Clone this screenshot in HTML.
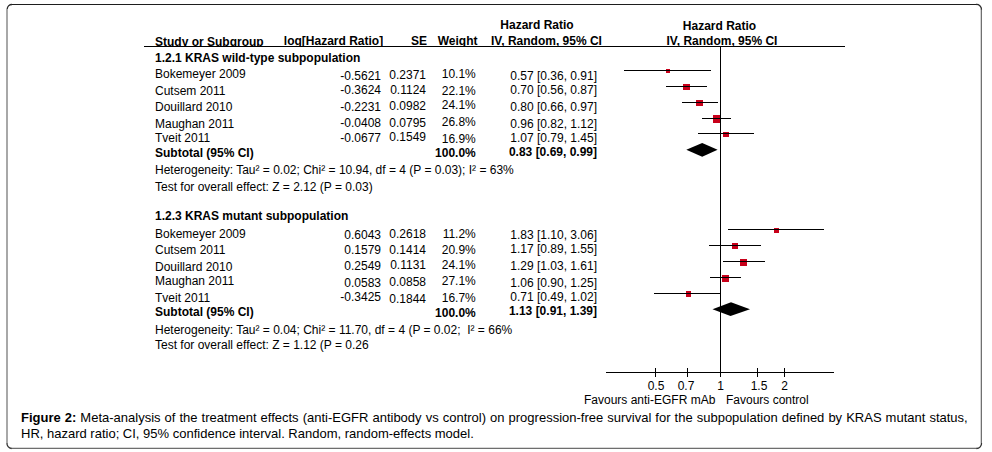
<!DOCTYPE html>
<html><head><meta charset="utf-8"><style>
html,body{margin:0;padding:0;background:#fff;width:992px;height:452px;overflow:hidden;position:relative}
.t{position:absolute;white-space:nowrap;font-family:"Liberation Sans",sans-serif;color:#000}
.r{position:absolute}
</style></head><body>
<svg class="r" style="left:0;top:0" width="992" height="452" viewBox="0 0 992 452">
<rect x="11" y="4" width="966" height="1" fill="#1e1e1e"/>
<rect x="6" y="9" width="2" height="434" fill="#a8a8a8"/>
<rect x="980" y="9" width="1" height="434" fill="#d4d4d4"/>
<rect x="981" y="9" width="1" height="434" fill="#707070"/>
<rect x="11" y="447" width="966" height="1" fill="#d8d8d8"/>
<rect x="11" y="448" width="966" height="1" fill="#6e6e6e"/>
<path d="M7.2,9 A4.8,4.8 0 0 1 12,4.5" stroke="#2a2a2a" stroke-width="1.3" fill="none"/>
<path d="M976,4.5 A5,5 0 0 1 981.5,9.5" stroke="#2a2a2a" stroke-width="1.3" fill="none"/>
<path d="M981.5,443 A5,5 0 0 1 976.5,448.5" stroke="#333" stroke-width="1.3" fill="none"/>
<path d="M11.5,448.5 A5,5 0 0 1 7,443" stroke="#333" stroke-width="1.3" fill="none"/>
</svg>
<div class="r" style="left:666px;top:69px;width:4px;height:4px;background:#c8001a"></div><div class="r" style="left:683px;top:84px;width:7px;height:6px;background:#c8001a"></div><div class="r" style="left:696px;top:100px;width:7px;height:6px;background:#c8001a"></div><div class="r" style="left:713px;top:115px;width:8px;height:8px;background:#c8001a"></div><div class="r" style="left:723px;top:132px;width:6px;height:5px;background:#c8001a"></div><div class="r" style="left:774px;top:228px;width:5px;height:5px;background:#c8001a"></div><div class="r" style="left:732px;top:243px;width:6px;height:6px;background:#c8001a"></div><div class="r" style="left:740px;top:259px;width:7px;height:7px;background:#c8001a"></div><div class="r" style="left:722px;top:275px;width:7px;height:7px;background:#c8001a"></div><div class="r" style="left:686px;top:291px;width:5px;height:6px;background:#c8001a"></div>
<div class="r" style="left:144px;top:46px;width:701px;height:1px;background:#000"></div><div class="r" style="left:720px;top:47px;width:1px;height:330px;background:#000"></div><div class="r" style="left:606px;top:372px;width:228px;height:1px;background:#000"></div><div class="r" style="left:655px;top:368px;width:1px;height:9px;background:#000"></div><div class="r" style="left:687px;top:368px;width:1px;height:9px;background:#000"></div><div class="r" style="left:720px;top:368px;width:1px;height:9px;background:#000"></div><div class="r" style="left:757px;top:368px;width:1px;height:9px;background:#000"></div><div class="r" style="left:784px;top:368px;width:1px;height:9px;background:#000"></div>
<div class="r" style="left:624px;top:70px;width:87px;height:1px;background:#000"></div><div class="r" style="left:666px;top:86px;width:41px;height:1px;background:#000"></div><div class="r" style="left:682px;top:102px;width:36px;height:1px;background:#000"></div><div class="r" style="left:702px;top:118px;width:29px;height:1px;background:#000"></div><div class="r" style="left:698px;top:133px;width:56px;height:1px;background:#000"></div><div class="r" style="left:728px;top:229px;width:96px;height:1px;background:#000"></div><div class="r" style="left:709px;top:245px;width:52px;height:1px;background:#000"></div><div class="r" style="left:723px;top:261px;width:42px;height:1px;background:#000"></div><div class="r" style="left:710px;top:277px;width:31px;height:1px;background:#000"></div><div class="r" style="left:654px;top:293px;width:67px;height:1px;background:#000"></div>
<svg class="r" style="left:0;top:0" width="992" height="452" viewBox="0 0 992 452">
<polygon points="686.3,149.8 702.2,143 717.6,149.8 702.2,156.8" fill="#000"/>
<polygon points="712.5,309.2 731,302.3 750,309.2 730.5,316" fill="#000"/>
</svg>
<div class="t" id="t0" style="top:36px;font-size:12px;line-height:12px;font-weight:bold;left:155px;height:11px;overflow:hidden;">Study or Subgroup</div><div class="t" id="t1" style="top:35px;font-size:12px;line-height:12px;font-weight:bold;left:83.19999999999999px;width:300px;text-align:right;height:12px;overflow:hidden;">log[Hazard Ratio]</div><div class="t" id="t2" style="top:35px;font-size:12px;line-height:12px;font-weight:bold;left:127.0px;width:300px;text-align:right;height:12px;overflow:hidden;">SE</div><div class="t" id="t3" style="top:35px;font-size:12px;line-height:12px;font-weight:bold;left:177.5px;width:300px;text-align:right;height:12px;overflow:hidden;">Weight</div><div class="t" id="t4" style="top:19px;font-size:12px;line-height:12px;font-weight:bold;left:387.0px;width:300px;text-align:center;">Hazard Ratio</div><div class="t" id="t5" style="top:35px;font-size:12px;line-height:12px;font-weight:bold;left:396.5px;width:300px;text-align:center;height:12px;overflow:hidden;">IV, Random, 95% CI</div><div class="t" id="t6" style="top:20px;font-size:12px;line-height:12px;font-weight:bold;left:569.5px;width:300px;text-align:center;">Hazard Ratio</div><div class="t" id="t7" style="top:35px;font-size:12px;line-height:12px;font-weight:bold;left:572.0px;width:300px;text-align:center;height:12px;overflow:hidden;">IV, Random, 95% CI</div><div class="t" id="t8" style="top:52px;font-size:12px;line-height:12px;font-weight:bold;left:155px;">1.2.1 KRAS wild-type subpopulation</div><div class="t" id="t9" style="top:68px;font-size:12px;line-height:12px;left:155px;">Bokemeyer 2009</div><div class="t" id="t10" style="top:70px;font-size:12px;line-height:12px;left:81.0px;width:300px;text-align:right;">-0.5621</div><div class="t" id="t11" style="top:69px;font-size:12px;line-height:12px;left:126.0px;width:300px;text-align:right;">0.2371</div><div class="t" id="t12" style="top:68px;font-size:12px;line-height:12px;left:175.8px;width:300px;text-align:right;">10.1%</div><div class="t" id="t13" style="top:70px;font-size:12px;line-height:12px;left:297.0px;width:300px;text-align:right;">0.57 [0.36, 0.91]</div><div class="t" id="t14" style="top:85px;font-size:12px;line-height:12px;left:155px;">Cutsem 2011</div><div class="t" id="t15" style="top:84px;font-size:12px;line-height:12px;left:81.0px;width:300px;text-align:right;">-0.3624</div><div class="t" id="t16" style="top:84px;font-size:12px;line-height:12px;left:126.0px;width:300px;text-align:right;">0.1124</div><div class="t" id="t17" style="top:85px;font-size:12px;line-height:12px;left:175.8px;width:300px;text-align:right;">22.1%</div><div class="t" id="t18" style="top:84px;font-size:12px;line-height:12px;left:297.0px;width:300px;text-align:right;">0.70 [0.56, 0.87]</div><div class="t" id="t19" style="top:101px;font-size:12px;line-height:12px;left:155px;">Douillard 2010</div><div class="t" id="t20" style="top:101px;font-size:12px;line-height:12px;left:81.0px;width:300px;text-align:right;">-0.2231</div><div class="t" id="t21" style="top:100px;font-size:12px;line-height:12px;left:126.0px;width:300px;text-align:right;">0.0982</div><div class="t" id="t22" style="top:99px;font-size:12px;line-height:12px;left:175.8px;width:300px;text-align:right;">24.1%</div><div class="t" id="t23" style="top:101px;font-size:12px;line-height:12px;left:297.0px;width:300px;text-align:right;">0.80 [0.66, 0.97]</div><div class="t" id="t24" style="top:118px;font-size:12px;line-height:12px;left:155px;">Maughan 2011</div><div class="t" id="t25" style="top:117px;font-size:12px;line-height:12px;left:81.0px;width:300px;text-align:right;">-0.0408</div><div class="t" id="t26" style="top:117px;font-size:12px;line-height:12px;left:126.0px;width:300px;text-align:right;">0.0795</div><div class="t" id="t27" style="top:116px;font-size:12px;line-height:12px;left:175.8px;width:300px;text-align:right;">26.8%</div><div class="t" id="t28" style="top:118px;font-size:12px;line-height:12px;left:297.0px;width:300px;text-align:right;">0.96 [0.82, 1.12]</div><div class="t" id="t29" style="top:132px;font-size:12px;line-height:12px;left:155px;">Tveit 2011</div><div class="t" id="t30" style="top:132px;font-size:12px;line-height:12px;left:81.0px;width:300px;text-align:right;">-0.0677</div><div class="t" id="t31" style="top:131px;font-size:12px;line-height:12px;left:126.0px;width:300px;text-align:right;">0.1549</div><div class="t" id="t32" style="top:133px;font-size:12px;line-height:12px;left:175.8px;width:300px;text-align:right;">16.9%</div><div class="t" id="t33" style="top:132px;font-size:12px;line-height:12px;left:297.0px;width:300px;text-align:right;">1.07 [0.79, 1.45]</div><div class="t" id="t34" style="top:228px;font-size:12px;line-height:12px;left:155px;">Bokemeyer 2009</div><div class="t" id="t35" style="top:229px;font-size:12px;line-height:12px;left:81.0px;width:300px;text-align:right;">0.6043</div><div class="t" id="t36" style="top:228px;font-size:12px;line-height:12px;left:126.0px;width:300px;text-align:right;">0.2618</div><div class="t" id="t37" style="top:228px;font-size:12px;line-height:12px;left:175.8px;width:300px;text-align:right;">11.2%</div><div class="t" id="t38" style="top:229px;font-size:12px;line-height:12px;left:297.0px;width:300px;text-align:right;">1.83 [1.10, 3.06]</div><div class="t" id="t39" style="top:244px;font-size:12px;line-height:12px;left:155px;">Cutsem 2011</div><div class="t" id="t40" style="top:244px;font-size:12px;line-height:12px;left:81.0px;width:300px;text-align:right;">0.1579</div><div class="t" id="t41" style="top:244px;font-size:12px;line-height:12px;left:126.0px;width:300px;text-align:right;">0.1414</div><div class="t" id="t42" style="top:244px;font-size:12px;line-height:12px;left:175.8px;width:300px;text-align:right;">20.9%</div><div class="t" id="t43" style="top:243px;font-size:12px;line-height:12px;left:297.0px;width:300px;text-align:right;">1.17 [0.89, 1.55]</div><div class="t" id="t44" style="top:261px;font-size:12px;line-height:12px;left:155px;">Douillard 2010</div><div class="t" id="t45" style="top:260px;font-size:12px;line-height:12px;left:81.0px;width:300px;text-align:right;">0.2549</div><div class="t" id="t46" style="top:259px;font-size:12px;line-height:12px;left:126.0px;width:300px;text-align:right;">0.1131</div><div class="t" id="t47" style="top:259px;font-size:12px;line-height:12px;left:175.8px;width:300px;text-align:right;">24.1%</div><div class="t" id="t48" style="top:260px;font-size:12px;line-height:12px;left:297.0px;width:300px;text-align:right;">1.29 [1.03, 1.61]</div><div class="t" id="t49" style="top:275px;font-size:12px;line-height:12px;left:155px;">Maughan 2011</div><div class="t" id="t50" style="top:277px;font-size:12px;line-height:12px;left:81.0px;width:300px;text-align:right;">0.0583</div><div class="t" id="t51" style="top:276px;font-size:12px;line-height:12px;left:126.0px;width:300px;text-align:right;">0.0858</div><div class="t" id="t52" style="top:275px;font-size:12px;line-height:12px;left:175.8px;width:300px;text-align:right;">27.1%</div><div class="t" id="t53" style="top:277px;font-size:12px;line-height:12px;left:297.0px;width:300px;text-align:right;">1.06 [0.90, 1.25]</div><div class="t" id="t54" style="top:292px;font-size:12px;line-height:12px;left:155px;">Tveit 2011</div><div class="t" id="t55" style="top:291px;font-size:12px;line-height:12px;left:81.0px;width:300px;text-align:right;">-0.3425</div><div class="t" id="t56" style="top:293px;font-size:12px;line-height:12px;left:126.0px;width:300px;text-align:right;">0.1844</div><div class="t" id="t57" style="top:292px;font-size:12px;line-height:12px;left:175.8px;width:300px;text-align:right;">16.7%</div><div class="t" id="t58" style="top:291px;font-size:12px;line-height:12px;left:297.0px;width:300px;text-align:right;">0.71 [0.49, 1.02]</div><div class="t" id="t59" style="top:147px;font-size:12px;line-height:12px;font-weight:bold;left:155px;">Subtotal (95% CI)</div><div class="t" id="t60" style="top:147px;font-size:12px;line-height:12px;font-weight:bold;left:175.8px;width:300px;text-align:right;">100.0%</div><div class="t" id="t61" style="top:146px;font-size:12px;line-height:12px;font-weight:bold;left:297.0px;width:300px;text-align:right;">0.83 [0.69, 0.99]</div><div class="t" id="t62" style="top:164px;font-size:12px;line-height:12px;left:155px;">Heterogeneity: Tau² = 0.02; Chi² = 10.94, df = 4 (P = 0.03); I² = 63%</div><div class="t" id="t63" style="top:181px;font-size:12px;line-height:12px;left:155px;">Test for overall effect: Z = 2.12 (P = 0.03)</div><div class="t" id="t64" style="top:210px;font-size:12px;line-height:12px;font-weight:bold;left:155px;">1.2.3 KRAS mutant subpopulation</div><div class="t" id="t65" style="top:306px;font-size:12px;line-height:12px;font-weight:bold;left:155px;">Subtotal (95% CI)</div><div class="t" id="t66" style="top:307px;font-size:12px;line-height:12px;font-weight:bold;left:175.8px;width:300px;text-align:right;">100.0%</div><div class="t" id="t67" style="top:305px;font-size:12px;line-height:12px;font-weight:bold;left:297.0px;width:300px;text-align:right;">1.13 [0.91, 1.39]</div><div class="t" id="t68" style="top:324px;font-size:12px;line-height:12px;left:155px;">Heterogeneity: Tau² = 0.04; Chi² = 11.70, df = 4 (P = 0.02;&nbsp; I² = 66%</div><div class="t" id="t69" style="top:339px;font-size:12px;line-height:12px;left:155px;">Test for overall effect: Z = 1.12 (P = 0.26</div><div class="t" id="t70" style="top:380px;font-size:12px;line-height:12px;left:506.0px;width:300px;text-align:center;">0.5</div><div class="t" id="t71" style="top:380px;font-size:12px;line-height:12px;left:536.0px;width:300px;text-align:center;">0.7</div><div class="t" id="t72" style="top:380px;font-size:12px;line-height:12px;left:570.5px;width:300px;text-align:center;">1</div><div class="t" id="t73" style="top:380px;font-size:12px;line-height:12px;left:609.0px;width:300px;text-align:center;">1.5</div><div class="t" id="t74" style="top:380px;font-size:12px;line-height:12px;left:634.5px;width:300px;text-align:center;">2</div><div class="t" id="t75" style="top:394px;font-size:12px;line-height:12px;left:584px;">Favours anti-EGFR mAb</div><div class="t" id="t76" style="top:394px;font-size:12px;line-height:12px;left:726px;">Favours control</div><div class="t" id="t77" style="top:411px;font-size:13px;line-height:13px;left:21px;word-spacing:0.43px;"><b>Figure 2:</b> Meta-analysis of the treatment effects (anti-EGFR antibody vs control) on progression-free survival for the subpopulation defined by KRAS mutant status,</div><div class="t" id="t78" style="top:427px;font-size:13px;line-height:13px;left:21px;">HR, hazard ratio; CI, 95% confidence interval. Random, random-effects model.</div>
</body></html>
